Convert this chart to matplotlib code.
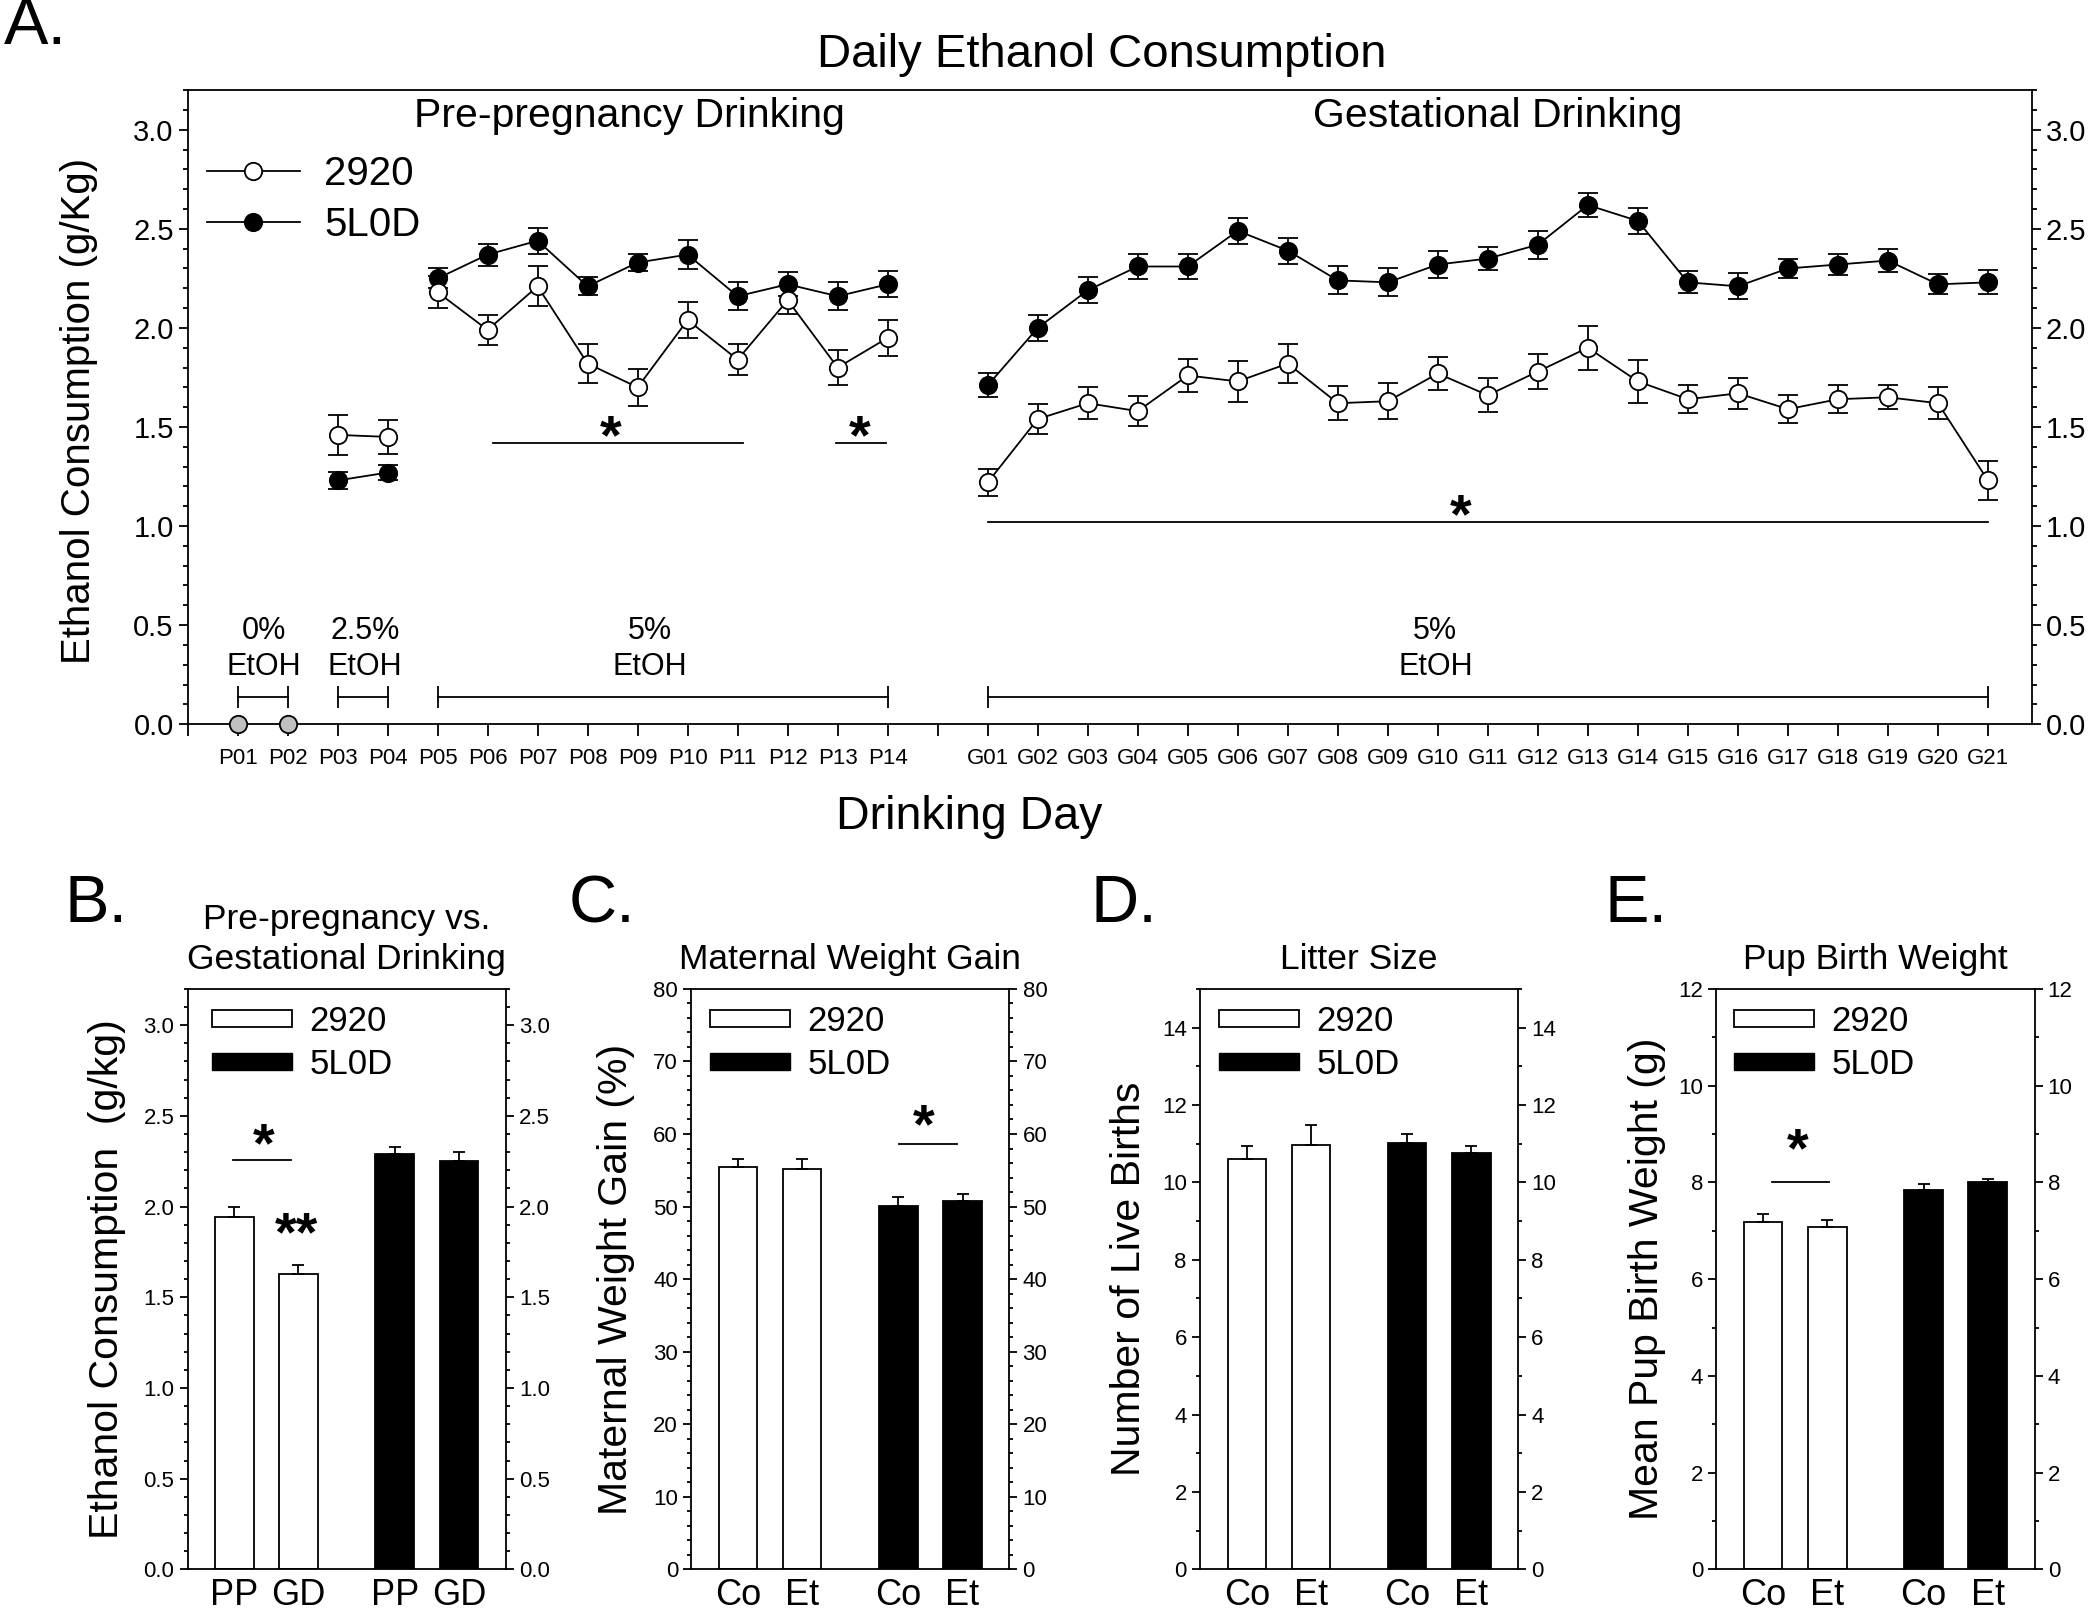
import numpy as np
import matplotlib.pyplot as plt
from matplotlib.patches import Patch
from matplotlib.lines import Line2D
from matplotlib.ticker import MultipleLocator

plt.rcParams['font.family'] = ['Liberation Sans', 'DejaVu Sans']
plt.rcParams['axes.linewidth'] = 1.3

# ---- panel A data (daily ethanol consumption, g/kg) ----
pre_days = ['P01', 'P02', 'P03', 'P04', 'P05', 'P06', 'P07', 'P08', 'P09', 'P10', 'P11', 'P12', 'P13', 'P14']
gest_days = ['G01', 'G02', 'G03', 'G04', 'G05', 'G06', 'G07', 'G08', 'G09', 'G10', 'G11', 'G12', 'G13', 'G14',
             'G15', 'G16', 'G17', 'G18', 'G19', 'G20', 'G21']

water_days = [0.0, 0.0]  # P01, P02 (0% EtOH)

pre_2920 = [1.46, 1.45, 2.18, 1.99, 2.21, 1.82, 1.70, 2.04, 1.84, 2.14, 1.80, 1.95]
pre_2920_err = [0.10, 0.085, 0.08, 0.075, 0.10, 0.10, 0.095, 0.09, 0.08, 0.07, 0.09, 0.09]
pre_5l0d = [1.23, 1.27, 2.25, 2.37, 2.44, 2.21, 2.33, 2.37, 2.16, 2.22, 2.16, 2.22]
pre_5l0d_err = [0.045, 0.04, 0.05, 0.055, 0.065, 0.045, 0.045, 0.075, 0.07, 0.06, 0.07, 0.065]

gest_2920 = [1.22, 1.54, 1.62, 1.58, 1.76, 1.73, 1.82, 1.62, 1.63, 1.77, 1.66, 1.78, 1.90, 1.73,
             1.64, 1.67, 1.59, 1.64, 1.65, 1.62, 1.23]
gest_2920_err = [0.067, 0.075, 0.08, 0.075, 0.085, 0.105, 0.10, 0.085, 0.09, 0.085, 0.085, 0.09, 0.11, 0.11,
                 0.07, 0.077, 0.07, 0.07, 0.06, 0.08, 0.10]
gest_5l0d = [1.71, 2.00, 2.19, 2.31, 2.31, 2.49, 2.39, 2.24, 2.23, 2.32, 2.35, 2.42, 2.62, 2.54,
             2.23, 2.21, 2.30, 2.32, 2.34, 2.22, 2.23]
gest_5l0d_err = [0.06, 0.065, 0.065, 0.062, 0.062, 0.067, 0.066, 0.07, 0.07, 0.07, 0.06, 0.07, 0.06, 0.065,
                 0.055, 0.065, 0.05, 0.055, 0.06, 0.05, 0.06]

# ---- panels B-E data: [2920 a, 2920 b, 5L0D a, 5L0D b] ----
b_cats = ['PP', 'GD', 'PP', 'GD']
b_vals = [1.94, 1.63, 2.29, 2.25]
b_errs = [0.06, 0.05, 0.04, 0.05]

c_cats = ['Co', 'Et', 'Co', 'Et']
c_vals = [55.4, 55.2, 50.1, 50.8]
c_errs = [1.2, 1.4, 1.2, 1.0]

d_vals = [10.6, 10.97, 11.02, 10.76]
d_errs = [0.33, 0.52, 0.23, 0.17]

e_vals = [7.19, 7.08, 7.85, 8.0]
e_errs = [0.15, 0.15, 0.11, 0.08]

fig = plt.figure(figsize=(21, 16.1), dpi=100)

# ================= Panel A =================
ax = fig.add_axes([0.0893, 0.5502, 0.8783, 0.3938])
px = np.arange(1, 15)
gx = np.arange(16, 37)
lw = 1.3
ms = 12.5


def series(x, y, e, face):
    ax.errorbar(x, y, yerr=e, fmt='-o', color='black', mfc=face, mec='black', ms=ms, mew=lw,
                lw=lw, elinewidth=lw, capsize=7, capthick=lw, zorder=3)


def star(a, x, y, s='*', off=2.5):
    # asterisk glyph sits high in its box, so offset in points from the bar line
    a.annotate(s, (x, y), xytext=(0, off), textcoords='offset points', ha='center', va='center',
               fontsize=40, fontweight='bold')


series(px[2:4], pre_5l0d[0:2], pre_5l0d_err[0:2], 'black')
series(px[4:], pre_5l0d[2:], pre_5l0d_err[2:], 'black')
series(gx, gest_5l0d, gest_5l0d_err, 'black')
series(px[2:4], pre_2920[0:2], pre_2920_err[0:2], 'white')
series(px[4:], pre_2920[2:], pre_2920_err[2:], 'white')
series(gx, gest_2920, gest_2920_err, 'white')
ax.plot(px[:2], water_days, 'o', mfc='#c0c0c0', mec='black', ms=ms, mew=lw, clip_on=False, zorder=5)

# concentration brackets
for a, b in [(1, 2), (3, 4), (5, 14), (16, 36)]:
    ax.plot([a, b], [0.135, 0.135], color='black', lw=lw, marker='|', ms=16, mew=lw)
conc = [(1.52, '0%\nEtOH'), (3.55, '2.5%\nEtOH'), (9.25, '5%\nEtOH'), (24.95, '5%\nEtOH')]
for x, s in conc:
    ax.text(x, 0.38, s, ha='center', va='center', fontsize=22, linespacing=1.25)

# significance
for a, b, y in [(6.1, 11.1, 1.42), (12.96, 13.97, 1.42), (16, 36, 1.02)]:
    ax.plot([a, b], [y, y], color='black', lw=lw)
for x, y in [(8.46, 1.42), (13.44, 1.42), (25.45, 1.02)]:
    star(ax, x, y)

ax.text(8.84, 3.07, 'Pre-pregnancy Drinking', ha='center', va='center', fontsize=29.5)
ax.text(26.2, 3.07, 'Gestational Drinking', ha='center', va='center', fontsize=29.5)

ax.set_xlim(0, 36.88)
ax.set_ylim(0, 3.2)
ax.set_xticks(np.arange(0, 37))
ax.set_xticklabels([''] + pre_days + [''] + gest_days)
ax.yaxis.set_major_locator(MultipleLocator(0.5))
ax.yaxis.set_minor_locator(MultipleLocator(0.1))
ax.yaxis.set_major_formatter(plt.FormatStrFormatter('%.1f'))
ax.tick_params(axis='x', length=8.5, width=lw, labelsize=16, pad=9)
ax.tick_params(axis='y', which='major', length=6.5, width=lw, labelsize=21, right=True, labelright=True)
ax.tick_params(axis='y', which='minor', length=3.5, width=lw, right=True)
ax.set_ylabel('Ethanol Consumption (g/Kg)', fontsize=29, va='center')
ax.yaxis.set_label_coords(-0.059, 0.494)

leg_h = [Line2D([0], [0], color='black', lw=lw, marker='o', mfc='white', mec='black', ms=ms, mew=lw),
         Line2D([0], [0], color='black', lw=lw, marker='o', mfc='black', mec='black', ms=ms, mew=lw)]
ax.legend(leg_h, ['2920', '5L0D'], loc='upper left', bbox_to_anchor=(0.0106, 0.898), frameon=False,
          fontsize=29, handlelength=2.3, handletextpad=0.6, labelspacing=0.33, borderpad=0, borderaxespad=0)

fig.text(1102 / 2100, 1 - 55 / 1610, 'Daily Ethanol Consumption', ha='center', va='center', fontsize=34)
fig.text(969 / 2100, 1 - 817 / 1610, 'Drinking Day', ha='center', va='center', fontsize=33.5)
fig.text(4 / 2100, 1 - 27 / 1610, 'A.', ha='left', va='center', fontsize=48)

# ================= Panels B-E =================
xs = [1, 2, 3.5, 4.5]
colors = ['white', 'white', 'black', 'black']


def bar_panel(left, vals, errs, cats, top, major, minor, fmt, title, ylabel, lab_x, leg_x):
    bx = fig.add_axes([left / 2100, 0.0252, 0.1515, 0.3606])
    bx.bar(xs, vals, width=0.6, color=colors, edgecolor='black', linewidth=lw,
           yerr=[[0] * 4, errs], capsize=4.5,
           error_kw=dict(elinewidth=lw, capthick=lw, ecolor='black'))
    bx.set_xlim(0.27, 5.23)
    bx.set_ylim(0, top)
    bx.set_xticks(xs)
    bx.set_xticklabels(cats)
    bx.yaxis.set_major_locator(MultipleLocator(major))
    bx.yaxis.set_minor_locator(MultipleLocator(minor))
    bx.yaxis.set_major_formatter(plt.FormatStrFormatter(fmt))
    bx.tick_params(axis='x', length=0, labelsize=26, pad=6)
    bx.tick_params(axis='y', which='major', length=6, width=lw, labelsize=16, right=True, labelright=True)
    bx.tick_params(axis='y', which='minor', length=3, width=lw, right=True)
    bx.set_title(title, fontsize=25.5, pad=14, linespacing=1.3)
    bx.set_ylabel(ylabel, fontsize=29.5, va='center')
    bx.yaxis.set_label_coords(lab_x, 0.5)
    handles = [Patch(facecolor='white', edgecolor='black', lw=lw), Patch(facecolor='black', edgecolor='black')]
    bx.legend(handles, ['2920', '5L0D'], loc='upper left', bbox_to_anchor=(leg_x, 0.972), frameon=False,
              fontsize=25, handlelength=2.3, handleheight=0.37, handletextpad=0.5, labelspacing=0.28,
              borderpad=0, borderaxespad=0)
    return bx


bb = bar_panel(187.5, b_vals, b_errs, b_cats, 3.2, 0.5, 0.1, '%.1f',
               'Pre-pregnancy vs.\nGestational Drinking', 'Ethanol Consumption  (g/kg)', -0.253, 0.077)
bb.plot([0.98, 1.885], [2.256, 2.256], color='black', lw=lw)
star(bb, 1.45, 2.256, off=9.6)
star(bb, 1.97, 1.898, s='**', off=-8.4)

bc = bar_panel(691.2, c_vals, c_errs, c_cats, 80, 10, 2, '%d',
               'Maternal Weight Gain', 'Maternal Weight Gain (%)', -0.236, 0.06)
bc.plot([3.51, 4.42], [58.6, 58.6], color='black', lw=lw)
star(bc, 3.9, 58.6, off=11.8)

bd = bar_panel(1200, d_vals, d_errs, c_cats, 15, 2, 1, '%d',
               'Litter Size', 'Number of Live Births', -0.223, 0.06)

be = bar_panel(1716.4, e_vals, e_errs, c_cats, 12, 2, 1, '%d',
               'Pup Birth Weight', 'Mean Pup Birth Weight (g)', -0.217, 0.055)
be.plot([1.135, 2.02], [8.0, 8.0], color='black', lw=lw)
star(be, 1.54, 8.0, off=21.6)

for x, s in [(64, 'B.'), (569, 'C.'), (1091, 'D.'), (1604, 'E.')]:
    fig.text(x / 2100, 1 - 905 / 1610, s, ha='left', va='center', fontsize=48)

fig.savefig('out.png', dpi=100)
